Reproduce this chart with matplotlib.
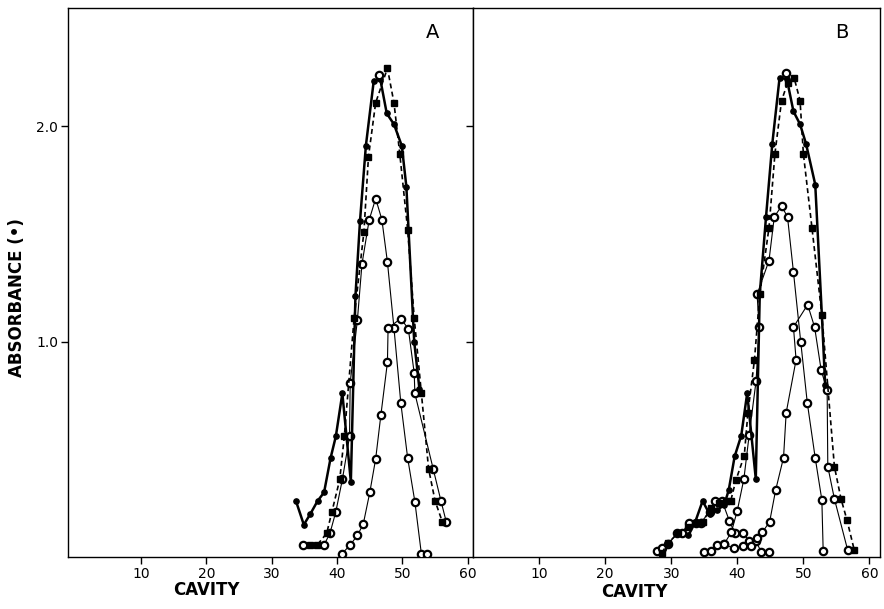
import matplotlib
matplotlib.use("Agg")
import matplotlib.pyplot as plt

# ---- panel A ----
a_abs_x = [33.7, 34.9, 35.9, 37.0, 38.0, 39.0, 39.8, 40.8, 42.1, 42.8, 43.5, 44.4, 45.6, 46.6,
           47.6, 48.7, 49.9, 50.6, 51.8, 52.6]
a_abs_y = [0.26, 0.15, 0.20, 0.26, 0.30, 0.46, 0.56, 0.76, 0.35, 1.21, 1.56, 1.91, 2.21, 2.22,
           2.06, 2.01, 1.91, 1.72, 1.00, 0.78]

a_sq_x = [35.8, 36.95, 38.4, 39.2, 40.4, 41.1, 42.6, 44.1, 44.8, 45.9, 47.7, 48.7, 49.6, 50.8,
          51.8, 52.9, 54.0, 55.0, 56.1]
a_sq_y = [0.056, 0.056, 0.11, 0.21, 0.36, 0.56, 1.11, 1.51, 1.86, 2.11, 2.27, 2.11, 1.87, 1.52,
          1.11, 0.76, 0.41, 0.26, 0.164]

a_o1_x = [34.7, 38.0, 38.9, 39.8, 40.8, 41.9, 42.0, 43.1, 43.8, 44.9, 45.9, 46.85, 47.7, 48.7,
          49.75, 50.8, 51.9, 52.9, 53.8]
a_o1_y = [0.056, 0.056, 0.11, 0.21, 0.36, 0.56, 0.81, 1.10, 1.36, 1.565, 1.665, 1.567, 1.37,
          1.064, 0.715, 0.459, 0.257, 0.014, 0.014]

a_o2_x = [40.7, 42.0, 43.1, 44.0, 45.0, 45.9, 46.7, 47.7, 47.8, 49.75, 50.9, 51.8, 51.9, 54.7,
          55.9, 56.7]
a_o2_y = [0.014, 0.056, 0.10, 0.153, 0.30, 0.456, 0.66, 0.904, 1.064, 1.107, 1.06, 0.854, 0.76,
          0.41, 0.26, 0.164]

a_top_x = [46.4]
a_top_y = [2.24]

# ---- panel B ----
b_abs_x = [32.6, 33.6, 34.75, 35.8, 37.0, 38.0, 38.7, 39.6, 40.6, 41.5, 42.8, 43.4, 44.35, 45.3,
           46.4, 47.5, 48.5, 49.5, 50.4, 51.8, 52.8, 53.3]
b_abs_y = [0.10, 0.16, 0.26, 0.20, 0.22, 0.24, 0.31, 0.467, 0.564, 0.761, 0.363, 1.22, 1.58, 1.92,
           2.226, 2.22, 2.07, 2.01, 1.92, 1.73, 1.125, 0.80]

b_sq_x = [28.6, 29.5, 31.0, 32.5, 33.7, 34.75, 36.0, 37.2, 38.3, 39.0, 39.8, 41.06, 41.6, 42.6,
          43.4, 44.8, 45.7, 46.7, 47.6, 48.6, 49.5, 50.0, 51.3, 52.8, 54.7, 55.7, 56.6, 57.7]
b_sq_y = [0.02, 0.064, 0.11, 0.14, 0.16, 0.164, 0.226, 0.25, 0.26, 0.26, 0.358, 0.471, 0.668,
          0.916, 1.22, 1.53, 1.874, 2.12, 2.20, 2.226, 2.12, 1.874, 1.53, 1.125, 0.42, 0.27,
          0.172, 0.033]

b_o1_x = [38.0, 39.1, 40.0, 41.0, 41.8, 42.85, 43.3, 43.0, 44.8, 45.6, 46.7, 47.6, 48.5, 49.6,
          50.6, 51.8, 52.8, 53.0]
b_o1_y = [0.06, 0.115, 0.215, 0.363, 0.567, 0.819, 1.067, 1.22, 1.377, 1.58, 1.63, 1.58, 1.324,
          1.0, 0.715, 0.459, 0.265, 0.028]

b_o2_x = [35.0, 36.0, 36.9, 38.0, 39.5, 40.8, 42.0, 43.0, 43.8, 44.9, 45.8, 47.0, 47.4, 48.9,
          48.5, 50.65, 51.7, 52.7, 53.6, 53.7, 54.7, 56.7]
b_o2_y = [0.022, 0.03, 0.056, 0.06, 0.04, 0.05, 0.05, 0.09, 0.115, 0.164, 0.31, 0.462, 0.67,
          0.916, 1.068, 1.172, 1.068, 0.867, 0.774, 0.42, 0.27, 0.033]

b_low_x = [27.9, 28.6, 29.5, 30.9, 31.7, 32.7, 33.7, 34.5, 35.8, 36.7, 37.7, 38.8, 39.6, 40.8,
           41.8, 42.8, 43.6, 44.8]
b_low_y = [0.028, 0.04, 0.06, 0.11, 0.11, 0.16, 0.16, 0.16, 0.21, 0.26, 0.26, 0.168, 0.113,
           0.113, 0.075, 0.075, 0.025, 0.025]

b_top_x = [47.4]
b_top_y = [2.25]


def draw(ax, abs_x, abs_y, sq_x, sq_y, open_series, top_x, top_y):
    oc = dict(color="black", marker="o", ms=5.3, mfc="white", mec="black", mew=1.6)
    for xs, ys in open_series:
        ax.plot(xs, ys, lw=0.8, **oc, zorder=3)
    ax.plot(sq_x, sq_y, color="black", lw=1.2, ls=(0, (3, 2)), marker="s", ms=4.5, zorder=4)
    ax.plot(abs_x, abs_y, color="black", lw=1.8, marker="o", ms=3.8, zorder=5)
    ax.plot(top_x, top_y, ls="none", **oc, zorder=6)


fig = plt.figure(figsize=(8.84, 6.09), dpi=100)
axA = fig.add_axes([68 / 884, 1 - 557 / 609, 405 / 884, 549 / 609])
axB = fig.add_axes([473 / 884, 1 - 557 / 609, 407 / 884, 549 / 609])

draw(axA, a_abs_x, a_abs_y, a_sq_x, a_sq_y,
     [(a_o1_x, a_o1_y), (a_o2_x, a_o2_y)], a_top_x, a_top_y)
draw(axB, b_abs_x, b_abs_y, b_sq_x, b_sq_y,
     [(b_low_x, b_low_y), (b_o1_x, b_o1_y), (b_o2_x, b_o2_y)], b_top_x, b_top_y)

axA.set_xlim(-1.2, 60.8)
axB.set_xlim(0, 61.6)
for ax in (axA, axB):
    ax.set_ylim(0, 2.55)
    ax.set_xticks([10, 20, 30, 40, 50, 60])
    ax.set_yticks([1.0, 2.0])
    ax.tick_params(direction="out", length=5, width=1, labelsize=10, pad=2, colors="black")
    for s in ax.spines.values():
        s.set_linewidth(1.0)

axA.set_yticklabels(["1.0", "2.0"])
axB.set_yticklabels([])

axA.text(0.9, 0.955, "A", transform=axA.transAxes, fontsize=14, ha="center", va="center")
axB.text(0.907, 0.955, "B", transform=axB.transAxes, fontsize=14, ha="center", va="center")

lab = dict(family=["Liberation Sans Narrow", "DejaVu Sans"], fontweight="bold", fontsize=12)
fig.text(206 / 884, 1 - 590 / 609, "CAVITY", ha="center", va="center", **lab)
fig.text(634 / 884, 1 - 592 / 609, "CAVITY", ha="center", va="center", **lab)
fig.text(17 / 884, 1 - 298 / 609, "ABSORBANCE (•)", rotation=90, ha="center", va="center", **lab)

fig.savefig("out.png", dpi=100)
